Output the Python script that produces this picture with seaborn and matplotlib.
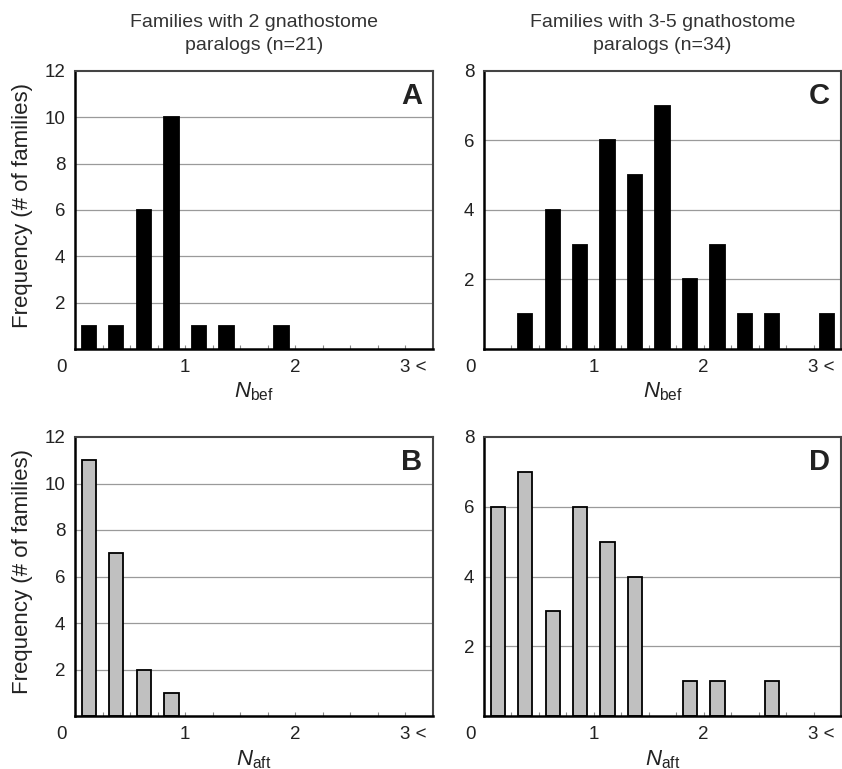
import numpy as np
import pandas as pd
import matplotlib
matplotlib.use("Agg")
import matplotlib.pyplot as plt
import matplotlib.transforms as mtransforms
import seaborn as sns

# ---------------- data ----------------
bin_labels = ["0-0.25", "0.25-0.5", "0.5-0.75", "0.75-1", "1-1.25", "1.25-1.5",
              "1.5-1.75", "1.75-2", "2-2.25", "2.25-2.5", "2.5-2.75", "2.75-3", "3<"]
A_nbef_2 = [1, 1, 6, 10, 1, 1, 0, 1, 0, 0, 0, 0, 0]
B_naft_2 = [11, 7, 2, 1, 0, 0, 0, 0, 0, 0, 0, 0, 0]
C_nbef_35 = [0, 1, 4, 3, 6, 5, 7, 2, 3, 1, 1, 0, 1]
D_naft_35 = [6, 7, 3, 6, 5, 4, 0, 1, 1, 0, 1, 0, 0]
x_tick_labels = ["0", "1", "2", "3 <"]
x_tick_values = [0, 1, 2, 3]
bins_per_unit = 4
titles = ["Families with 2 gnathostome\nparalogs (n=21)",
          "Families with 3-5 gnathostome\nparalogs (n=34)"]
ylabel = "Frequency (# of families)"

# ---------------- style ----------------
sns.set_style("white")
plt.rcParams["font.family"] = ["Liberation Sans", "DejaVu Sans"]
plt.rcParams["mathtext.fontset"] = "custom"
plt.rcParams["mathtext.rm"] = "Liberation Sans"
plt.rcParams["mathtext.it"] = "Liberation Sans:italic"

W, H = 842, 769
fig = plt.figure(figsize=(W / 100, H / 100), dpi=100)


def px_axes(l, t, r, b):
    return fig.add_axes([l / W, 1 - b / H, (r - l) / W, (b - t) / H])


panels = [
    dict(data=A_nbef_2, box=(75, 71, 433, 349), ymax=12, letter="A",
         color="black", xlabel=r"$\mathit{N}_{\mathrm{bef}}$", ylab=True),
    dict(data=B_naft_2, box=(75, 437, 433, 716), ymax=12, letter="B",
         color="#c0c0c0", xlabel=r"$\mathit{N}_{\mathrm{aft}}$", ylab=True),
    dict(data=C_nbef_35, box=(484, 71, 841, 349), ymax=8, letter="C",
         color="black", xlabel=r"$\mathit{N}_{\mathrm{bef}}$", ylab=False),
    dict(data=D_naft_35, box=(484, 437, 841, 716), ymax=8, letter="D",
         color="#c0c0c0", xlabel=r"$\mathit{N}_{\mathrm{aft}}$", ylab=False),
]

for p in panels:
    ax = px_axes(*p["box"])
    df = pd.DataFrame({"bin": bin_labels, "count": p["data"]})
    sns.barplot(data=df, x="bin", y="count", order=bin_labels, color=p["color"],
                width=0.52, edgecolor="black", linewidth=1.3, saturation=1,
                ax=ax)
    for patch in ax.patches:
        if patch.get_height() == 0:
            patch.set_visible(False)
    ax.set_xlim(-0.5, len(bin_labels) - 0.5)
    ax.set_ylim(0, p["ymax"])
    yt = list(range(2, p["ymax"] + 1, 2))
    ax.set_yticks(yt)
    ax.set_yticklabels([str(v) for v in yt], fontsize=13.5)
    ax.tick_params(axis="y", length=0, pad=7, labelcolor="#222222")
    for v in yt[:-1]:
        ax.axhline(v, color="#9a9a9a", lw=0.9, zorder=0)
    # x ticks: small inward gray marks at bin boundaries
    ax.set_xticks([])
    ax.set_xticks([k - 0.5 for k in range(1, len(bin_labels))], minor=True)
    ax.tick_params(axis="x", which="minor", direction="in", length=3,
                   width=0.8, color="#888888", bottom=True)
    ax.set_xlabel("")
    ax.set_ylabel("")
    trans = mtransforms.blended_transform_factory(ax.transData, ax.transAxes)
    for val, lab in zip(x_tick_values, x_tick_labels):
        xpos = val * bins_per_unit - 0.5
        if lab == "0":
            ax.text(xpos - 0.5, -0.065, lab, transform=trans, ha="center",
                    va="center", fontsize=13.5, color="#222222")
        elif "<" in lab:
            ax.text(xpos - 0.2, -0.065, lab, transform=trans, ha="left",
                    va="center", fontsize=13.5, color="#222222")
        else:
            ax.text(xpos, -0.065, lab, transform=trans, ha="center",
                    va="center", fontsize=13.5, color="#222222")
    ax.text(0.5, -0.155, p["xlabel"], transform=ax.transAxes, ha="center",
            va="center", fontsize=16, color="#222222")
    ax.text(0.94, 0.91, p["letter"], transform=ax.transAxes, ha="center",
            va="center", fontsize=21, fontweight="bold", color="#222222")
    for s in ["top", "right"]:
        ax.spines[s].set_color("#444444")
        ax.spines[s].set_linewidth(1.5)
    for s in ["left", "bottom"]:
        ax.spines[s].set_color("black")
        ax.spines[s].set_linewidth(1.8)
    if p["ylab"]:
        l, t, r, b = p["box"]
        fig.text(23 / W, 1 - ((t + b) / 2 - 5) / H, ylabel, rotation=90,
                 ha="center", va="center", fontsize=16, color="#222222")

# column titles
for title, (l, r) in zip(titles, [(75, 433), (484, 841)]):
    fig.text(((l + r) / 2) / W, 1 - 34 / H, title, ha="center", va="center",
             fontsize=14, color="#333333", linespacing=1.5)

fig.savefig("out.png", dpi=100)
